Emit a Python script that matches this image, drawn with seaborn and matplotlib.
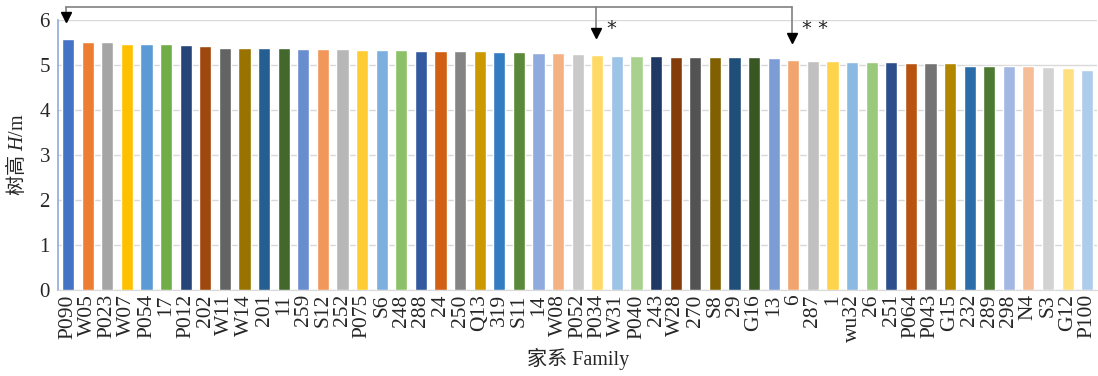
import colorsys
import matplotlib
matplotlib.use("Agg")
import matplotlib.pyplot as plt
import matplotlib.colors as mcolors
import seaborn as sns

# family names and tree height (m)
families = ["P090", "W05", "P023", "W07", "P054", "17", "P012", "202", "W11", "W14",
            "201", "11", "259", "S12", "252", "P075", "S6", "248", "288", "24",
            "250", "Q13", "319", "S11", "14", "W08", "P052", "P034", "W31", "P040",
            "243", "W28", "270", "S8", "29", "G16", "13", "6", "287", "1",
            "wu32", "26", "251", "P064", "P043", "G15", "232", "289", "298", "N4",
            "S3", "G12", "P100"]
heights = [5.57, 5.50, 5.50, 5.47, 5.47, 5.47, 5.43, 5.41, 5.38, 5.37,
           5.37, 5.37, 5.36, 5.36, 5.36, 5.33, 5.33, 5.33, 5.31, 5.31,
           5.31, 5.30, 5.28, 5.28, 5.26, 5.26, 5.24, 5.22, 5.20, 5.20,
           5.20, 5.18, 5.18, 5.18, 5.17, 5.17, 5.15, 5.11, 5.09, 5.09,
           5.07, 5.07, 5.06, 5.04, 5.04, 5.04, 4.98, 4.97, 4.97, 4.97,
           4.94, 4.93, 4.89]

# significance markers above selected families
marked = ["P090", "P034", "6"]
marks = ["", "*", "* *"]

# office style palette: 6 accents, then shades/tints per cycle
accents = ["#4472C4", "#ED7D31", "#A5A5A5", "#FFC000", "#5B9BD5", "#70AD47"]
lum_mods = [(1, 0), (0.6, 0), (0.8, 0.2), (0.8, 0), (0.6, 0.4),
            (0.5, 0), (0.7, 0.3), (0.7, 0), (0.5, 0.5)]


def office_color(i):
    r, g, b = mcolors.to_rgb(accents[i % 6])
    mod, off = lum_mods[(i // 6) % len(lum_mods)]
    h, l, s = colorsys.rgb_to_hls(r, g, b)
    l = min(1, l * mod + off)
    return colorsys.hls_to_rgb(h, l, s)


colors = [office_color(i) for i in range(len(families))]

sns.set_style("white")
plt.rcParams["font.family"] = ["Liberation Serif", "Noto Sans CJK SC"]
# mixed label: CJK upright (rm), H italic serif, /m upright serif (sf)
plt.rcParams["mathtext.fontset"] = "custom"
plt.rcParams["mathtext.rm"] = "Noto Sans CJK SC"
plt.rcParams["mathtext.it"] = "Liberation Serif:italic"
plt.rcParams["mathtext.sf"] = "Liberation Serif"

fig = plt.figure(figsize=(10.98, 3.76), dpi=100)
ax = fig.add_axes([0.0531, 0.2287, 0.9460, 0.7190])

sns.barplot(x=families, y=heights, hue=families, palette=colors, legend=False,
            width=0.62, saturation=1, ax=ax, zorder=3)

ax.set_xlim(-0.5, len(families) - 0.5)
ax.set_ylim(0, 6)
ax.set_yticks(range(0, 7))
ax.yaxis.grid(True, color="#D9D9D9", lw=1, zorder=0)
ax.set_axisbelow(True)

for side in ["top", "right"]:
    ax.spines[side].set_visible(False)
ax.spines["left"].set_color("#8EA9DB")
ax.spines["bottom"].set_color("#D9D9D9")
ax.spines["left"].set_linewidth(1.2)

ax.tick_params(axis="x", length=0, labelsize=15.5, rotation=90, pad=3)
ax.tick_params(axis="y", direction="in", length=3, color="#8EA9DB",
               labelsize=15, pad=6)

ax.set_xlabel("家系 Family", fontsize=14.5, labelpad=4)
ax.set_ylabel("$\\mathrm{树高}\\ \\mathit{H}\\mathsf{/m}$", fontsize=14.5, labelpad=8)

# bracket with arrows
top_y = 6.27
idx = [families.index(f) for f in marked]
ax.plot([idx[0] - 0.1, idx[-1] - 0.05], [top_y, top_y], color="#808080",
        lw=1.2, clip_on=False, zorder=5)
for i, m in zip(idx, marks):
    x = i - 0.1 if i == 0 else i - 0.05
    tip = heights[i] + 0.4
    ax.plot([x, x], [top_y, tip + 0.08], color="#808080", lw=1.2,
            clip_on=False, zorder=5)
    ax.plot([x], [tip + 0.08], marker="v", color="black", markersize=7,
            clip_on=False, zorder=6)
    if m:
        ax.text(x + 0.5, 5.8, m, fontsize=14, ha="left", va="center",
                family="DejaVu Sans", clip_on=False)

fig.savefig("out.png", dpi=100)
